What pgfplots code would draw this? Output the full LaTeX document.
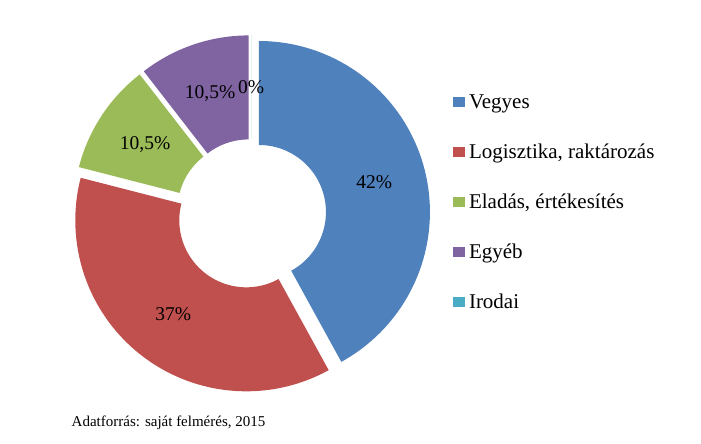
\documentclass[border=0pt]{standalone}
\usepackage{pgfplots}
\pgfplotsset{compat=1.18}
\usepackage{pgfplotstable}
\usepackage{fontspec}
\setmainfont{Liberation Serif}
\definecolor{cVeg}{HTML}{4F81BD}
\definecolor{cLog}{HTML}{C0504D}
\definecolor{cEla}{HTML}{9BBB59}
\definecolor{cEgy}{HTML}{8064A2}
\definecolor{cIro}{HTML}{4BACC6}

\pgfplotstableread{
value
42
37
10.5
10.5
0
}\shares

\def\cx{251.2}\def\cy{230}
\def\Ro{171}\def\Ri{67}\def\ex{8}\def\lr{119}

\newcommand\donutslice[4]{% start, end, colour, value
  \pgfmathsetmacro\mid{(#1+#2)/2}%
  \pgfmathsetmacro\sx{\cx+\ex*cos(\mid)}%
  \pgfmathsetmacro\sy{\cy+\ex*sin(\mid)}%
  \pgfmathsetmacro\lx{\sx+\lr*cos(\mid)}%
  \pgfmathsetmacro\ly{\sy+\lr*sin(\mid)}%
  \edef\temp{\noexpand\addplot[fill=#3, draw=none, no marks, variable=\noexpand\t,
     samples at={0,1,...,100,101,102,...,201}]
     ({\sx+ifthenelse(\noexpand\t<=100,\Ro,\Ri)*cos(ifthenelse(\noexpand\t<=100,#1+(#2-(#1))*\noexpand\t/100,#2+(#1-(#2))*(\noexpand\t-101)/100))},
      {\sy+ifthenelse(\noexpand\t<=100,\Ro,\Ri)*sin(ifthenelse(\noexpand\t<=100,#1+(#2-(#1))*\noexpand\t/100,#2+(#1-(#2))*(\noexpand\t-101)/100))});
     \noexpand\node[font=\noexpand\fontsize{19.5bp}{23bp}\noexpand\selectfont, inner sep=0pt] at (axis cs:\lx,\ly) {\noexpand\pgfmathprintnumber[use comma,fixed,precision=1,assume math mode=true]{#4}\noexpand\%};}%
  \temp
}

\begin{document}%
\begin{tikzpicture}
\pgfplotstablegetelem{0}{value}\of\shares\let\vA\pgfplotsretval
\pgfplotstablegetelem{1}{value}\of\shares\let\vB\pgfplotsretval
\pgfplotstablegetelem{2}{value}\of\shares\let\vC\pgfplotsretval
\pgfplotstablegetelem{3}{value}\of\shares\let\vD\pgfplotsretval
\pgfplotstablegetelem{4}{value}\of\shares\let\vE\pgfplotsretval
\pgfmathsetmacro\aA{90}
\pgfmathsetmacro\aB{\aA-3.6*\vA}
\pgfmathsetmacro\aC{\aB-3.6*\vB}
\pgfmathsetmacro\aD{\aC-3.6*\vC}
\pgfmathsetmacro\aE{\aD-3.6*\vD}
\pgfmathsetmacro\aF{\aE-3.6*\vE}
\begin{axis}[
  width=701bp, height=444bp, scale only axis,
  xmin=0, xmax=701, ymin=0, ymax=444,
  hide axis, clip=false,
  legend image code/.code={\fill[#1] (0bp,1.6bp) rectangle (11.5bp,11.6bp); \path (0bp,0bp) (16bp,0bp);},
  legend style={at={(axis cs:453,351.7)}, anchor=north west, draw=none, fill=none,
    inner sep=0pt, outer sep=0pt, row sep=29bp,
    font=\fontsize{21bp}{25bp}\selectfont,
    nodes={inner sep=0pt, text height=16bp, text depth=5bp},
    cells={anchor=base west}},
]
\path (axis cs:0,0) (axis cs:701,444);
\donutslice{\aA}{\aB}{cVeg}{\vA}
\donutslice{\aB}{\aC}{cLog}{\vB}
\donutslice{\aC}{\aD}{cEla}{\vC}
\donutslice{\aD}{\aE}{cEgy}{\vD}
\donutslice{\aE}{\aF}{cIro}{\vE}
\legend{Vegyes, {Logisztika, raktározás}, {Eladás, értékesítés}, Egyéb, Irodai}
\node[anchor=base west, inner sep=0pt, font=\fontsize{15bp}{18bp}\selectfont] at (axis cs:71.5,17.3) {Adatforrás: saját felmérés, 2015};
\end{axis}
\end{tikzpicture}%
\end{document}
